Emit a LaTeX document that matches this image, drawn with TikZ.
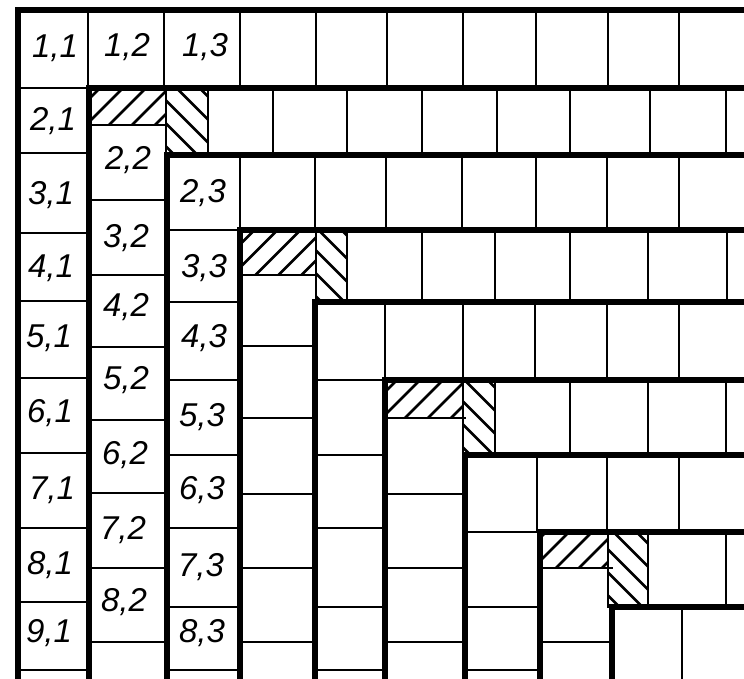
\documentclass[tikz,border=0pt]{standalone}
\usepackage{fontspec}
\setmainfont{Liberation Sans}
\newcommand\hatchup[4]{%
  \begin{scope}\clip (#1,#2) rectangle (#3,#4);
  \foreach \s in {-161,-138,...,161} \draw[hatchline] ({(#1+#3)/2+\s-90},{(#2+#4)/2+90}) -- ++(180,-180);
  \end{scope}}
\newcommand\hatchdown[4]{%
  \begin{scope}\clip (#1,#2) rectangle (#3,#4);
  \foreach \s in {-161,-138,...,161} \draw[hatchline] ({(#1+#3)/2+\s-90},{(#2+#4)/2-90}) -- ++(180,180);
  \end{scope}}
\begin{document}
\begin{tikzpicture}[x=1pt,y=-1pt,
  thinline/.style={line width=2.8pt, line cap=rect},
  thickline/.style={line width=5.5pt, line cap=rect},
  frameline/.style={line width=6.5pt, line cap=rect},
  hatchline/.style={line width=2.6pt},
  lbl/.style={font=\fontsize{33}{33}\selectfont\itshape, inner sep=0pt}]
\useasboundingbox[fill=white] (0,0) rectangle (744,679);
% hatches
\hatchup{89}{88}{166}{125}
\hatchdown{166}{88}{208}{155}
\hatchup{240}{230}{316}{275}
\hatchdown{316}{230}{347}{302}
\hatchup{385}{380}{463}{418}
\hatchdown{463}{380}{495}{455}
\hatchup{540}{532}{608}{568}
\hatchdown{608}{532}{648}{607}
% thin verticals in rows
\foreach \x in {88,164,240,316,387,463,536,608,679} \draw[thinline] (\x,10) -- (\x,88);
\foreach \x in {166,208,273,347,422,497,570,650,726} \draw[thinline] (\x,88) -- (\x,155);
\foreach \x in {240,315,386,462,536,607,679} \draw[thinline] (\x,155) -- (\x,230);
\foreach \x in {316,347,422,495,570,648,727} \draw[thinline] (\x,230) -- (\x,302);
\foreach \x in {385,463,535,607,679} \draw[thinline] (\x,302) -- (\x,380);
\foreach \x in {463,495,570,648,726} \draw[thinline] (\x,380) -- (\x,455);
\foreach \x in {537,607,679} \draw[thinline] (\x,455) -- (\x,532);
\foreach \x in {608,648,726} \draw[thinline] (\x,532) -- (\x,607);
\foreach \x in {682} \draw[thinline] (\x,607) -- (\x,679);
% thin horizontals in columns
\foreach \y in {88,153,233,301,378,453,528,602,670} \draw[thinline] (18,\y) -- (89,\y);
\foreach \y in {125,200,275,347,420,493,568,642} \draw[thinline] (89,\y) -- (167,\y);
\foreach \y in {230,302,380,455,528,607,670} \draw[thinline] (167,\y) -- (240,\y);
\foreach \y in {275,346,418,494,568,642} \draw[thinline] (240,\y) -- (315,\y);
\foreach \y in {380,455,528,607,670} \draw[thinline] (315,\y) -- (385,\y);
\foreach \y in {418,494,568,642} \draw[thinline] (385,\y) -- (465,\y);
\foreach \y in {532,607,670} \draw[thinline] (465,\y) -- (540,\y);
\foreach \y in {568,642} \draw[thinline] (540,\y) -- (612,\y);
% thick layer boundaries
\draw[thickline] (89,679) -- (89,88) -- (744,88);
\draw[thickline] (167,679) -- (167,155) -- (744,155);
\draw[thickline] (240,679) -- (240,230) -- (744,230);
\draw[thickline] (315,679) -- (315,302) -- (744,302);
\draw[thickline] (385,679) -- (385,380) -- (744,380);
\draw[thickline] (465,679) -- (465,455) -- (744,455);
\draw[thickline] (540,679) -- (540,532) -- (744,532);
\draw[thickline] (612,679) -- (612,607) -- (744,607);
% frame
\draw[frameline] (18,679) -- (18,10) -- (744,10);
% labels
\node[lbl] (l11) at (55,48) {1,1};
\node[lbl] (l12) at (127,47) {1,2};
\node[lbl] (l13) at (205,47) {1,3};
\node[lbl] (l21) at (53,121) {2,1};
\node[lbl] (l31) at (51,195) {3,1};
\node[lbl] (l41) at (51,268) {4,1};
\node[lbl] (l51) at (49,338) {5,1};
\node[lbl] (l61) at (50,413) {6,1};
\node[lbl] (l71) at (52,490) {7,1};
\node[lbl] (l81) at (50,565) {8,1};
\node[lbl] (l91) at (49,633) {9,1};
\node[lbl] (l22) at (128,160) {2,2};
\node[lbl] (l32) at (126,238) {3,2};
\node[lbl] (l42) at (126,307) {4,2};
\node[lbl] (l52) at (126,380) {5,2};
\node[lbl] (l62) at (125,455) {6,2};
\node[lbl] (l72) at (123,530) {7,2};
\node[lbl] (l82) at (124,602) {8,2};
\node[lbl] (l23) at (203,193) {2,3};
\node[lbl] (l33) at (204,268) {3,3};
\node[lbl] (l43) at (204,338) {4,3};
\node[lbl] (l53) at (202,417) {5,3};
\node[lbl] (l63) at (202,490) {6,3};
\node[lbl] (l73) at (201,567) {7,3};
\node[lbl] (l83) at (202,633) {8,3};
\end{tikzpicture}
\end{document}
